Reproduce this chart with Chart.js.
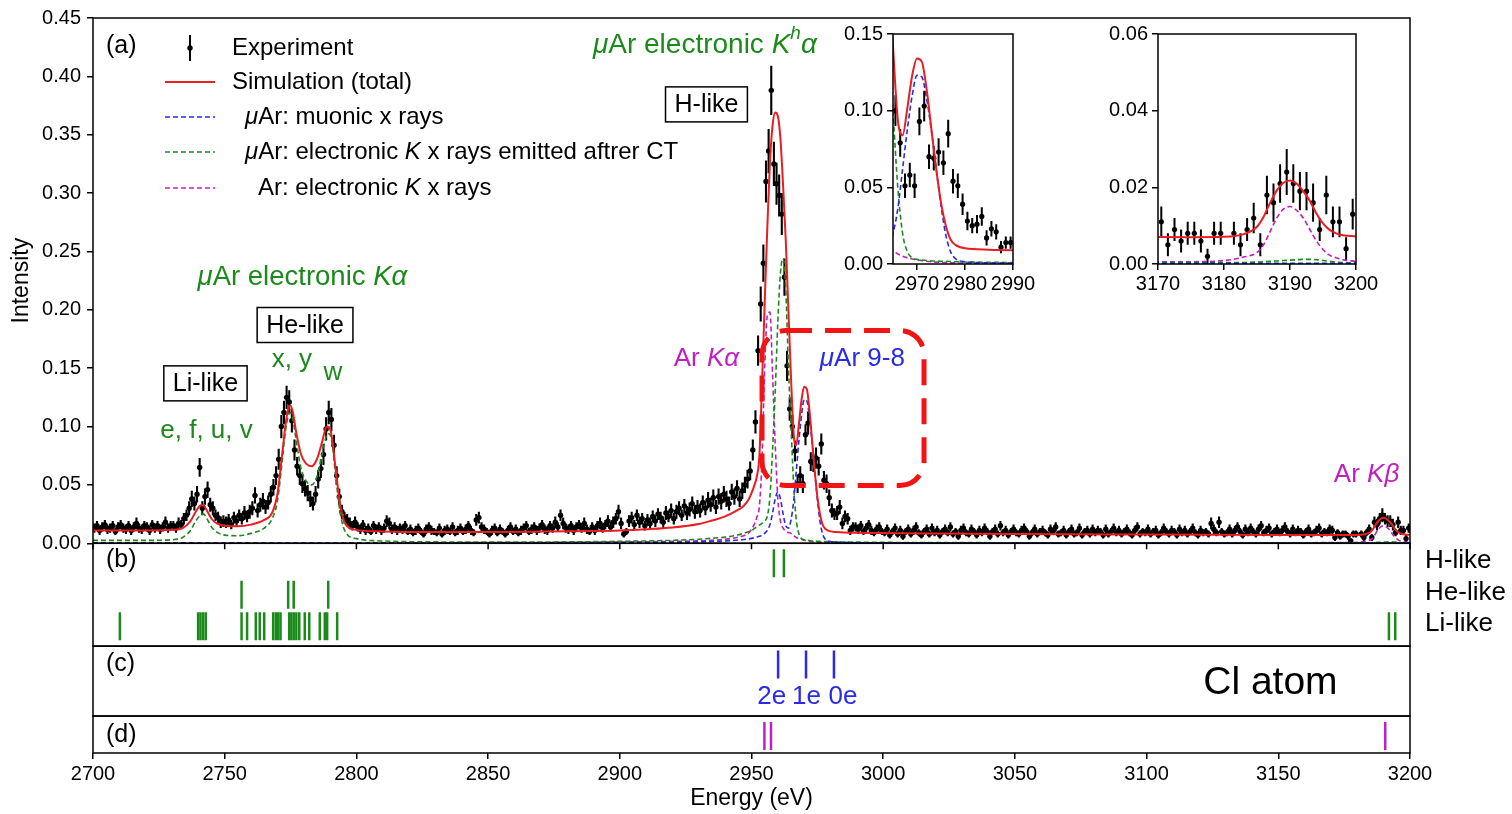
<!DOCTYPE html>
<html>
<head>
<meta charset="utf-8">
<script src="https://cdn.jsdelivr.net/npm/chart.js@4.4.0/dist/chart.umd.min.js"></script>
<style>
  body { margin: 0; background: #fff; }
  #wrap { position: relative; width: 1512px; height: 814px; }
  #wrap canvas { position: absolute; }
</style>
</head>
<body>
<div id="wrap">
  <canvas id="main" width="1512" height="814" style="left:0;top:0"></canvas>
  <canvas id="inset1" width="205" height="282" style="left:833px;top:18px"></canvas>
  <canvas id="inset2" width="283" height="282" style="left:1098px;top:18px"></canvas>
</div>
<script>
// measured spectrum, 1 eV bins starting at 2700.5 eV, intensity x 1000
const expVal = [
  13,15,11,14,16,12,13,15,10,14, 16,13,12,15,11,14,17,13,12,15,
  14,11,16,13,15,12,14,18,13,15, 15,13,17,16,21,24,30,38,34,42,
  65,30,40,46,33,30,24,22,18,19, 18,20,16,22,19,24,21,26,23,27,
  30,41,28,33,36,31,35,42,48,58, 72,100,112,125,121,105,80,66,58,51,
  47,43,38,34,42,55,64,76,98,112, 106,84,58,40,27,22,20,17,15,18,
  14,12,16,11,13,10,15,12,14,11, 13,19,17,12,14,11,13,12,15,10,
  12,9,11,13,10,8,12,14,11,10, 9,13,8,11,12,10,14,9,11,13,
  10,12,15,11,9,20,22,14,12,10, 8,11,13,9,12,10,8,11,14,10,
  12,9,11,13,15,10,12,14,11,13, 16,12,11,15,13,18,14,24,17,13,
  12,15,11,14,16,13,17,12,10,14, 11,15,17,13,16,19,14,18,21,27,
  17,8,10,19,22,16,24,18,21,15, 20,17,23,19,25,22,18,26,23,28,
  21,27,30,24,32,26,29,34,27,31, 28,35,30,37,33,39,31,40,36,42,
  38,34,44,40,47,38,45,50,55,62, 80,104,165,205,240,310,336,388,325,308,
  298,282,228,152,115,100,79,51,58,51, 93,103,70,69,73,66,85,54,51,39,
  28,25,26,31,17,23,21,11,14,14, 12,15,10,13,16,11,9,12,14,10,
  9,12,7,10,13,8,11,6,10,12, 8,11,14,9,7,10,12,8,13,9,
  11,7,10,12,9,14,8,10,6,11, 13,9,8,12,10,7,11,9,13,10,
  6,10,12,8,15,9,11,7,10,12, 9,8,11,13,10,6,9,12,8,10,
  11,9,7,12,10,14,8,9,11,7, 10,12,8,9,13,7,10,11,8,12,
  9,11,10,7,12,8,10,13,9,11, 8,10,12,9,7,11,14,8,10,9,
  12,8,10,11,7,9,13,10,8,11, 10,7,12,9,11,8,10,13,9,7,
  11,9,10,8,17,12,9,18,10,8, 9,12,8,11,14,10,7,12,9,13,
  10,8,12,15,9,11,13,8,10,12, 9,11,14,10,8,12,9,11,10,7,
  10,12,8,9,11,13,8,10,9,12, 11,5,9,6,8,8,6,2,8,8,
  null,8,5,9,12,5,18,16,21,24, 21,19,19,16,9,18,11,11,4,13
];
// one-sigma error of each bin, x 1000
const expErr = [
  4,4,4,4,4,4,4,4,3,4, 4,4,4,4,4,4,5,4,4,4,
  4,4,4,4,4,4,4,5,4,4, 4,4,5,4,5,5,6,7,6,7,
  8,6,7,7,6,6,5,5,5,5, 5,5,4,5,5,5,5,6,5,6,
  6,7,6,6,7,6,6,7,7,8, 9,10,10,10,10,10,9,8,8,8,
  7,7,7,6,7,8,8,9,10,10, 10,9,8,7,6,5,5,5,4,5,
  4,4,4,4,4,3,4,4,4,4, 4,5,5,4,4,4,4,4,4,3,
  4,3,4,4,3,3,4,4,4,3, 3,4,3,4,4,3,4,3,4,4,
  3,4,4,4,3,5,5,4,4,3, 3,4,4,3,4,3,3,4,4,3,
  4,3,4,4,4,3,4,4,4,4, 4,4,4,4,4,5,4,5,5,4,
  4,4,4,4,4,4,5,4,3,4, 4,4,5,4,4,5,4,5,5,6,
  5,3,3,5,5,4,5,5,5,4, 5,5,5,5,5,5,5,6,5,6,
  5,6,6,5,6,6,6,6,6,6, 6,6,6,7,6,7,6,7,7,7,
  7,6,7,7,7,7,7,7,8,8, 9,10,13,15,16,18,19,21,19,18,
  18,18,16,13,10,10,9,8,8,8, 9,10,8,8,9,8,9,8,8,7,
  6,5,6,6,5,5,5,4,4,4, 4,4,3,4,4,4,3,4,4,3,
  3,4,3,3,4,3,4,3,3,4, 3,4,4,3,3,3,4,3,4,3,
  4,3,3,4,3,4,3,3,3,4, 4,3,3,4,3,3,4,3,4,3,
  3,3,4,3,4,3,4,3,3,4, 3,3,4,4,3,3,3,4,3,3,
  4,3,3,4,3,4,3,3,4,3, 3,4,3,3,4,3,3,4,3,4,
  3,4,3,3,4,3,3,4,3,4, 3,3,4,3,3,4,4,3,3,3,
  4,3,3,4,3,3,4,3,3,4, 3,3,4,3,4,3,3,4,3,3,
  4,3,3,3,5,4,3,5,3,3, 3,4,3,4,4,3,3,4,3,4,
  3,3,4,4,3,4,4,3,3,4, 3,4,4,3,3,4,3,4,3,3,
  3,4,3,3,4,4,3,3,3,4, 4,3,3,3,3,3,3,2,3,3,
  0,3,3,3,4,3,5,5,5,6, 5,5,5,5,3,5,4,4,3,4
];

// simulated curves (intensity x 1000) on a common energy grid
const simE = [
  2700,2710,2720,2730,2734,2737,2739,2741,2742,2743,2745,2747,
  2750,2755,2760,2765,2768,2770,
  2772,2773,2774,2775,2776,2777,
  2779,2781,2783,2785,2787,2788,2789,2790,2791,2792,
  2794,2796,2800,2810,2830,2850,2870,2890,
  2900,2910,2920,2930,2935,2940,2944,2947,2949,
  2950,2951,2952,2953,2954,2955,2956,2957,2958,2959,
  2960,2961,2962,2963,2964,2965,2966,2967,2968,2969,
  2970,2971,2972,2973,2974,2975,2976,2977,2978,
  2980,2985,2990,3000,3020,3050,3100,3150,
  3175,3180,3183,3185,
  3186,3187,3188,3189,3190,3191,3192,3193,3194,3195,3196,3197,3198,
  3200
];
const simTotal = [
  11,11,11,11.5,13,19,27,32.5,32.5,29,21,17,
  15,14.5,16,20,26,42,
  80,100,114,118,111,97,
  76,68,66,72,87,96,100,98,86,66,
  31,16,11.5,10.2,9.7,9.7,10,10.5,
  11,12,13.5,16.5,19.5,23,27.5,32,38,
  43,49,57,75,137,205,270,326,358,369,
  366,346,306,260,200,142,94,84,102,123,
  134,132,114,88,62,40,25,16,12.5,
  10.2,9.3,9,8.8,8.4,8,7.5,7.1,
  7,7.1,7.8,9.7,
  12.3,16,19.2,21.2,21.8,21,19,16.5,13.2,10.6,8.9,8,7.5,
  7.2
];
const simMu = [
  0.3,0.3,0.3,0.3,0.3,0.3,0.3,0.3,0.3,0.3,0.3,0.3,
  0.3,0.3,0.3,0.3,0.3,0.3,
  0.3,0.3,0.3,0.3,0.3,0.3,
  0.3,0.3,0.3,0.3,0.3,0.3,0.3,0.3,0.3,0.3,
  0.3,0.3,0.3,0.3,0.3,0.3,0.4,0.5,
  0.6,0.7,0.9,1.2,1.5,2,2.6,3.2,3.8,
  4.2,4.7,5.3,6,7,8.5,11,16,26,38,
  44,38,25,15,13,20,36,62,88,110,
  123,122,108,87,62,38,19,8,3.5,
  1.5,0.8,0.5,0.4,0.3,0.2,0.2,0.2,
  0.2,0.2,0.2,0.2,
  0.2,0.2,0.2,0.2,0.2,0.2,0.2,0.2,0.2,0.2,0.2,0.2,0.2,
  0.2
];
const simCT = [
  2.5,2.5,2.5,3,5,11,19,24.5,25,22,14,9.5,
  7,6.5,8.5,13,21,36,
  74,95,108,112,105,90,
  64,53,50,57,76,87,94,93,82,60,
  24,9,4,2,1.2,1,1.1,1.4,
  1.7,2,2.5,3.5,4.3,5.3,6.8,8.5,10,
  11,12.5,14,15.5,17,19,23,40,80,130,
  190,232,244,218,152,100,50,20,8,4,
  3,2.6,2.3,2,1.9,1.8,1.7,1.6,1.5,
  1.3,1.1,1,0.8,0.6,0.5,0.4,0.4,
  0.4,0.4,0.4,0.5,
  0.6,0.7,0.8,0.9,1,1.1,1.2,1.2,1.1,0.9,0.7,0.5,0.4,
  0.3
];
const simAr = [
  0.5,0.5,0.5,0.5,0.5,0.5,0.5,0.5,0.5,0.5,0.5,0.5,
  0.5,0.5,0.5,0.5,0.5,0.5,
  0.5,0.5,0.5,0.5,0.5,0.5,
  0.5,0.5,0.5,0.5,0.5,0.5,0.5,0.5,0.5,0.5,
  0.5,0.5,0.5,0.5,0.5,0.6,0.7,0.9,
  1.1,1.3,1.6,2.1,2.6,3.5,4.8,6.5,9,
  12,16,22,32,72,150,195,198,145,85,
  38,19,13,10.5,9.3,8.5,6.5,5,4,3.3,
  2.7,2.2,1.8,1.5,1.2,1,0.9,0.8,0.7,
  0.6,0.5,0.4,0.4,0.4,0.4,0.4,0.5,
  0.6,0.9,1.8,3,
  5,8.5,12,14.3,15,14,12,9,6,3.8,2.3,1.6,1.1,
  0.7
];

// transition energies (eV)
const liLikeE = [2710.2, 2739.9, 2740.8, 2741.8, 2742.8, 2756.4, 2758.5, 2761.8, 2763.3, 2765.0,
  2768.4, 2769.4, 2770.3, 2771.2, 2774.5, 2775.3, 2776.2, 2777.2, 2778.3, 2780.4, 2782.1,
  2786.1, 2788.0, 2788.9, 2792.7, 3192.0, 3194.4];
const heLikeE = [2756.4, 2774.1, 2776.2, 2789.3];
const hLikeE = [2958.5, 2962.3];
const clE = [2960.1, 2970.7, 2981.3];
const clLabels = ['2e', '1e', '0e'];
const arE = [2954.9, 2957.4, 3190.6];

const inset1Ticks = [2970, 2980, 2990];

const binE = expVal.map((_, i) => 2700.5 + i);

const RED = '#ea1d22';
const GREEN = '#1b8a1b';
const BLUE = '#2a2ae8';
const MAGENTA = '#c21fc2';
const FONT = '"Liberation Sans", Arial, sans-serif';

Chart.defaults.font.family = FONT;
Chart.defaults.color = '#000';

function pts(xs, ys) {
  return xs.map((x, i) => ({ x: x, y: ys[i] === null ? null : ys[i] / 1000 }));
}

function spectrum(yId, dotR) {
  const curve = (vals, color, w, dash, order) => ({
    type: 'line', data: pts(simE, vals), borderColor: color, borderWidth: w,
    borderDash: dash, pointRadius: 0, cubicInterpolationMode: 'monotone',
    yAxisID: yId, order: order
  });
  return [
    curve(simTotal, RED, 2, [], 1),
    curve(simMu, BLUE, 1.6, [5, 3], 2),
    curve(simCT, GREEN, 1.6, [5, 3], 3),
    curve(simAr, MAGENTA, 1.6, [5, 3], 4),
    { type: 'scatter', data: pts(binE, expVal), pointRadius: dotR, pointBackgroundColor: '#000',
      pointBorderWidth: 0, yAxisID: yId, order: 10 }
  ];
}

function lineMarks(energies, row, color, yId) {
  return { type: 'scatter', data: energies.map(e => ({ x: e, y: row })), pointStyle: 'line',
    pointRotation: 90, pointRadius: 14, pointBorderWidth: 2.5, pointBorderColor: color,
    pointBackgroundColor: color, yAxisID: yId, order: 0 };
}

function drawErrorBars(chart, yId, lw) {
  const { ctx, chartArea } = chart;
  const xs = chart.scales.x, ys = chart.scales[yId];
  ctx.save();
  ctx.beginPath();
  ctx.rect(chartArea.left, ys.top, chartArea.right - chartArea.left, ys.bottom - ys.top);
  ctx.clip();
  ctx.strokeStyle = '#000';
  ctx.lineWidth = lw;
  ctx.beginPath();
  expVal.forEach((v, i) => {
    if (v === null) return;
    const px = xs.getPixelForValue(binE[i]);
    ctx.moveTo(px, ys.getPixelForValue((v - expErr[i]) / 1000));
    ctx.lineTo(px, ys.getPixelForValue((v + expErr[i]) / 1000));
  });
  ctx.stroke();
  ctx.restore();
}

// text made of plain / italic / superscript pieces
function richText(ctx, parts, x, y, size, color, align) {
  const fontOf = p => (p[1] ? 'italic ' : '') + (p[2] ? Math.round(size * 0.68) : size) + 'px ' + FONT;
  let w = 0;
  parts.forEach(p => { ctx.font = fontOf(p); w += ctx.measureText(p[0]).width; });
  let cx = align === 'center' ? x - w / 2 : x;
  ctx.fillStyle = color;
  ctx.textAlign = 'left';
  ctx.textBaseline = 'middle';
  parts.forEach(p => {
    ctx.font = fontOf(p);
    ctx.fillText(p[0], cx, p[2] ? y - size * 0.38 : y);
    cx += ctx.measureText(p[0]).width;
  });
}

function boxedText(ctx, text, x, y, size) {
  ctx.font = size + 'px ' + FONT;
  const w = ctx.measureText(text).width;
  ctx.lineWidth = 1.5;
  ctx.strokeStyle = '#000';
  ctx.strokeRect(x - w / 2 - 9, y - size * 0.7, w + 18, size * 1.4);
  ctx.fillStyle = '#000';
  ctx.textAlign = 'center';
  ctx.textBaseline = 'middle';
  ctx.fillText(text, x, y + 1);
}

const peakLabels = [
  { parts: [['μ', 1], ['Ar electronic '], ['K', 1], ['h', 1, 1], ['α', 1]], e: 2932.3, v: 0.427, color: GREEN, size: 28 },
  { parts: [['μ', 1], ['Ar electronic '], ['K', 1], ['α', 1]], e: 2779.5, v: 0.2276, color: GREEN, size: 27.5 },
  { parts: [['x, y']], e: 2775.5, v: 0.157, color: GREEN, size: 26 },
  { parts: [['w']], e: 2791.1, v: 0.146, color: GREEN, size: 26 },
  { parts: [['e, f, u, v']], e: 2743.1, v: 0.0967, color: GREEN, size: 26 },
  { parts: [['Ar '], ['Kα', 1]], e: 2932.9, v: 0.158, color: MAGENTA, size: 26 },
  { parts: [['μ', 1], ['Ar 9-8']], e: 2992.1, v: 0.158, color: BLUE, size: 26 },
  { parts: [['Ar '], ['Kβ', 1]], e: 3183.5, v: 0.059, color: MAGENTA, size: 26 }
];
const chargeBoxes = [
  { text: 'H-like', e: 2932.9, v: 0.376 },
  { text: 'He-like', e: 2780.5, v: 0.187 },
  { text: 'Li-like', e: 2742.7, v: 0.137 }
];

const mainDecor = {
  id: 'mainDecor',
  beforeDatasetsDraw(chart) { drawErrorBars(chart, 'ya', 2.1); },
  afterDatasetsDraw(chart) {
    const { ctx } = chart;
    const x = chart.scales.x, y = chart.scales.ya;
    ctx.save();
    // dashed frame around the 9-8 line
    const l = x.getPixelForValue(2954.0), r = x.getPixelForValue(3015.5);
    const t = y.getPixelForValue(0.1822), b = y.getPixelForValue(0.0496), rad = 24;
    ctx.strokeStyle = '#f21414';
    ctx.lineWidth = 5;
    ctx.setLineDash([26, 13]);
    ctx.beginPath();
    ctx.moveTo(l + rad, t);
    ctx.arcTo(r, t, r, b, rad);
    ctx.arcTo(r, b, l, b, rad);
    ctx.arcTo(l, b, l, t, rad);
    ctx.arcTo(l, t, r, t, rad);
    ctx.closePath();
    ctx.stroke();
    ctx.setLineDash([]);
    peakLabels.forEach(a => richText(ctx, a.parts, x.getPixelForValue(a.e), y.getPixelForValue(a.v), a.size, a.color, 'center'));
    chargeBoxes.forEach(a => boxedText(ctx, a.text, x.getPixelForValue(a.e), y.getPixelForValue(a.v), 25));
    ctx.restore();
  },
  afterDraw(chart) {
    const { ctx, chartArea } = chart;
    const x = chart.scales.x;
    const ya = chart.scales.ya, yb = chart.scales.yb, yc = chart.scales.yc, yd = chart.scales.yd;
    const L = chartArea.left, R = chartArea.right;
    ctx.save();
    ctx.strokeStyle = '#000';
    ctx.lineWidth = 1.5;
    [ya, yb, yc, yd].forEach(s => ctx.strokeRect(L, s.top, R - L, s.bottom - s.top));
    ctx.beginPath();
    x.ticks.forEach(tk => {
      const px = x.getPixelForValue(tk.value);
      ctx.moveTo(px, ya.bottom);
      ctx.lineTo(px, ya.bottom + 6);
    });
    ctx.stroke();

    // panel tags
    ctx.fillStyle = '#000';
    ctx.font = '25px ' + FONT;
    ctx.textAlign = 'left';
    ctx.textBaseline = 'middle';
    ctx.fillText('(a)', L + 13, ya.top + 28);
    ctx.fillText('(b)', L + 13, yb.top + 17);
    ctx.fillText('(c)', L + 13, yc.top + 18);
    ctx.fillText('(d)', L + 13, yd.top + 19);

    // row names beside panel (b)
    ctx.font = '26px ' + FONT;
    ctx.fillText('H-like', R + 15, yb.getPixelForValue(3) - 2);
    ctx.fillText('He-like', R + 15, yb.getPixelForValue(2) - 2);
    ctx.fillText('Li-like', R + 15, yb.getPixelForValue(1) - 2);

    // charge-state labels in panel (c)
    ctx.fillStyle = BLUE;
    ctx.textAlign = 'center';
    const labelE = [2957.7, 2970.9, 2984.7];
    clLabels.forEach((s, i) => ctx.fillText(s, x.getPixelForValue(labelE[i]), yc.getPixelForValue(0.271)));
    ctx.fillStyle = '#000';
    ctx.font = '39px ' + FONT;
    ctx.fillText('Cl atom', x.getPixelForValue(3147), yc.getPixelForValue(0.471));

    // legend
    const mx0 = L + 72, mx1 = L + 122, tx = L + 139, top = chartArea.top;
    const rows = [30, 64, 99, 134, 170].map(v => top + v);
    ctx.lineWidth = 2;
    ctx.beginPath();
    ctx.moveTo((mx0 + mx1) / 2, rows[0] - 13);
    ctx.lineTo((mx0 + mx1) / 2, rows[0] + 13);
    ctx.stroke();
    ctx.beginPath();
    ctx.arc((mx0 + mx1) / 2, rows[0], 2.7, 0, Math.PI * 2);
    ctx.fill();
    const legendLine = (row, color, dash, w) => {
      ctx.strokeStyle = color;
      ctx.lineWidth = w;
      ctx.setLineDash(dash);
      ctx.beginPath();
      ctx.moveTo(mx0, row);
      ctx.lineTo(mx1, row);
      ctx.stroke();
    };
    legendLine(rows[1], RED, [], 2);
    legendLine(rows[2], BLUE, [5, 3], 1.6);
    legendLine(rows[3], GREEN, [5, 3], 1.6);
    legendLine(rows[4], MAGENTA, [5, 3], 1.6);
    ctx.setLineDash([]);
    richText(ctx, [['Experiment']], tx, rows[0], 24, '#000', 'left');
    richText(ctx, [['Simulation (total)']], tx, rows[1], 24, '#000', 'left');
    richText(ctx, [['μ', 1], ['Ar: muonic x rays']], tx + 13, rows[2], 24, '#000', 'left');
    richText(ctx, [['μ', 1], ['Ar: electronic '], ['K', 1], [' x rays emitted aftrer CT']], tx + 13, rows[3], 24, '#000', 'left');
    richText(ctx, [['Ar: electronic '], ['K', 1], [' x rays']], tx + 26, rows[4], 24, '#000', 'left');
    ctx.restore();
  }
};

const tickGrid = { drawOnChartArea: false, drawTicks: true, tickLength: 6, color: '#000', lineWidth: 1.5 };
const hiddenAxis = (weight, stackWeight, min, max) => ({
  type: 'linear', position: 'left', stack: 'panels', stackWeight: stackWeight, weight: weight,
  min: min, max: max, ticks: { display: false }, grid: { display: false }, border: { display: false }
});

new Chart(document.getElementById('main'), {
  type: 'scatter',
  data: {
    datasets: [
      ...spectrum('ya', 2.7),
      lineMarks(hLikeE, 3, GREEN, 'yb'),
      lineMarks(heLikeE, 2, GREEN, 'yb'),
      lineMarks(liLikeE, 1, GREEN, 'yb'),
      lineMarks(clE, 0.736, BLUE, 'yc'),
      lineMarks(arE, 0.46, MAGENTA, 'yd')
    ]
  },
  options: {
    responsive: false,
    animation: false,
    devicePixelRatio: 1,
    layout: { padding: { top: 17, right: 102, left: 0, bottom: 0 } },
    plugins: { legend: { display: false }, tooltip: { enabled: false } },
    scales: {
      x: {
        type: 'linear', min: 2700, max: 3200,
        ticks: { stepSize: 50, font: { size: 20 }, padding: 3, maxRotation: 0, callback: v => String(v) },
        grid: tickGrid, border: { display: false },
        title: { display: true, text: 'Energy (eV)', font: { size: 23 }, padding: { top: 0, bottom: 2 } },
        afterFit: s => { s.height = 61; }
      },
      ya: {
        type: 'linear', position: 'left', stack: 'panels', stackWeight: 526, weight: 4,
        min: 0, max: 0.45,
        ticks: { stepSize: 0.05, font: { size: 20 }, padding: 6, callback: v => v.toFixed(2) },
        grid: tickGrid, border: { display: false },
        title: { display: true, text: 'Intensity', font: { size: 23 }, padding: { top: 8, bottom: 0 } },
        afterFit: s => { s.width = 93; }
      },
      yb: hiddenAxis(3, 103, 0.365, 3.635),
      yc: hiddenAxis(2, 70, 0, 1),
      yd: hiddenAxis(1, 37, 0, 1)
    }
  },
  plugins: [mainDecor]
});

const insetDecor = {
  id: 'insetDecor',
  beforeDatasetsDraw(chart) { drawErrorBars(chart, 'y', 2); },
  afterDraw(chart) {
    const { ctx, chartArea: a } = chart;
    ctx.save();
    ctx.strokeStyle = '#000';
    ctx.lineWidth = 1.5;
    ctx.strokeRect(a.left, a.top, a.right - a.left, a.bottom - a.top);
    ctx.restore();
  }
};

function inset(id, xMin, xMax, yMax, yStep, xTicks) {
  const xAxis = {
    type: 'linear', min: xMin, max: xMax,
    ticks: { stepSize: 10, font: { size: 20 }, padding: 2, autoSkip: false, maxRotation: 0, callback: v => String(v) },
    grid: tickGrid, border: { display: false },
    afterFit: s => { s.height = 36; }
  };
  if (xTicks) xAxis.afterBuildTicks = s => { s.ticks = xTicks.map(v => ({ value: v })); };
  new Chart(document.getElementById(id), {
    type: 'scatter',
    data: { datasets: spectrum('y', 2.6) },
    options: {
      responsive: false,
      animation: false,
      devicePixelRatio: 1,
      layout: { padding: { top: 15, right: 25, left: 0, bottom: 0 } },
      plugins: { legend: { display: false }, tooltip: { enabled: false } },
      scales: {
        x: xAxis,
        y: {
          type: 'linear', min: 0, max: yMax,
          ticks: { stepSize: yStep, font: { size: 20 }, padding: 4, callback: v => v.toFixed(2) },
          grid: tickGrid, border: { display: false },
          afterFit: s => { s.width = 60; }
        }
      }
    },
    plugins: [insetDecor]
  });
}

inset('inset1', 2965, 2990, 0.15, 0.05, inset1Ticks);
inset('inset2', 3170, 3200, 0.06, 0.02, null);
</script>
</body>
</html>
